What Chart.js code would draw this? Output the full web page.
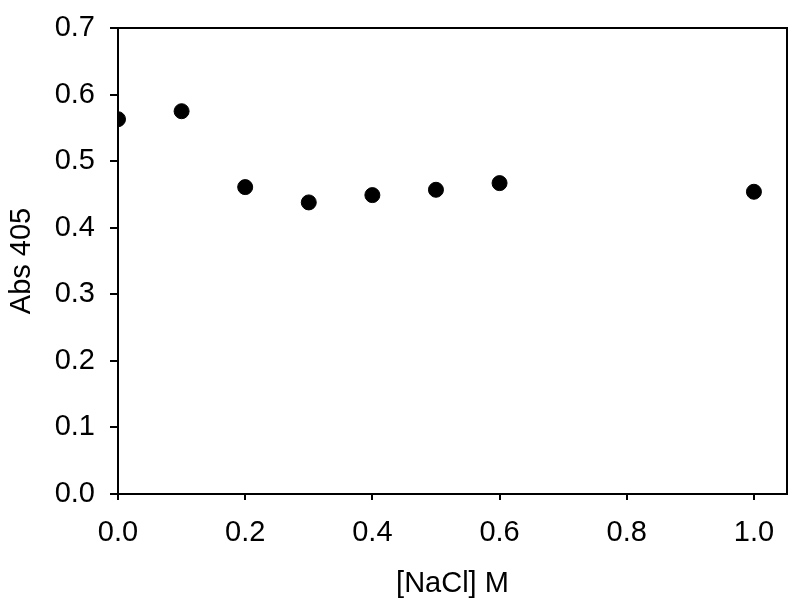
<!DOCTYPE html>
<html>
<head>
<meta charset="utf-8">
<script src="https://cdn.jsdelivr.net/npm/chart.js@4"></script>
<style>
html,body{margin:0;padding:0;background:#fff;}
#wrap{width:800px;height:607px;position:relative;}
</style>
</head>
<body>
<div id="wrap"><canvas id="c" width="800" height="607"></canvas></div>
<script>
const naclM = [0.0, 0.1, 0.2, 0.3, 0.4, 0.5, 0.6, 1.0];
const abs405 = [0.563, 0.575, 0.461, 0.438, 0.449, 0.457, 0.467, 0.454];
const xTicks = [0.0, 0.2, 0.4, 0.6, 0.8, 1.0];
const yTicks = [0.0, 0.1, 0.2, 0.3, 0.4, 0.5, 0.6, 0.7];
const xTitle = '[NaCl] M';
const yTitle = 'Abs 405';

const FONT = "'Liberation Sans', Arial, sans-serif";

const frame = {
  id: 'frame',
  afterDraw(chart) {
    const a = chart.chartArea, ctx = chart.ctx;
    ctx.save();
    ctx.strokeStyle = '#000';
    ctx.lineWidth = 2;
    ctx.strokeRect(a.left, a.top, a.right - a.left, a.bottom - a.top);
    ctx.restore();
  }
};

new Chart(document.getElementById('c'), {
  type: 'scatter',
  data: {
    datasets: [{
      data: naclM.map((x, i) => ({x: x, y: abs405[i]})),
      backgroundColor: '#000',
      borderColor: '#000',
      pointRadius: 7.5,
      pointHoverRadius: 7.5
    }]
  },
  options: {
    responsive: false,
    animation: false,
    events: [],
    layout: {padding: {left: 0, top: 28, right: 13, bottom: 0}},
    plugins: {legend: {display: false}, tooltip: {enabled: false}},
    scales: {
      x: {
        type: 'linear',
        min: 0,
        max: 1.052,
        afterBuildTicks: s => { s.ticks = xTicks.map(v => ({value: v})); },
        afterFit: s => { s.height = 113; s.paddingLeft = 0; s.paddingRight = 0; },
        border: {display: true, color: '#000', width: 2},
        grid: {drawOnChartArea: false, drawTicks: true, tickLength: 6, color: '#000', lineWidth: 2},
        ticks: {color: '#000', font: {family: FONT, size: 29}, padding: 16, maxRotation: 0,
                callback: v => Number(v).toFixed(1)},
        title: {display: true, text: xTitle, color: '#000', font: {family: FONT, size: 29},
                padding: {top: 0, bottom: 6}}
      },
      y: {
        type: 'linear',
        min: 0,
        max: 0.7,
        afterBuildTicks: s => { s.ticks = yTicks.map(v => ({value: v})); },
        afterFit: s => { s.width = 118; s.paddingTop = 0; s.paddingBottom = 0; },
        border: {display: true, color: '#000', width: 2},
        grid: {drawOnChartArea: false, drawTicks: true, tickLength: 8, color: '#000', lineWidth: 2},
        ticks: {color: '#000', font: {family: FONT, size: 29}, padding: 15,
                callback: v => Number(v).toFixed(1)},
        title: {display: true, text: yTitle, color: '#000', font: {family: FONT, size: 29},
                padding: {top: 5, bottom: 0}}
      }
    }
  },
  plugins: [frame]
});
</script>
</body>
</html>
